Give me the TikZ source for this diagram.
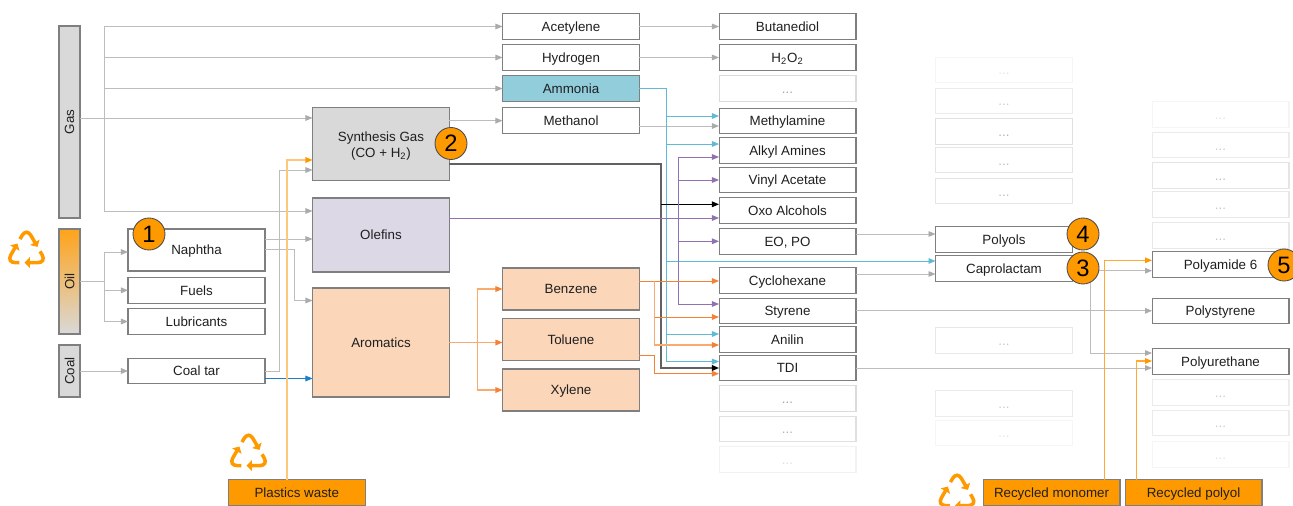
\documentclass[tikz,border=0pt]{standalone}
\usepackage{fontspec}
\setmainfont{Liberation Sans}
\usetikzlibrary{arrows.meta}
\definecolor{edgegrey}{HTML}{7F7F7F}
\definecolor{linegrey}{HTML}{BDBDBD}
\definecolor{tipgrey}{HTML}{ABABAB}
\definecolor{gasgrey}{HTML}{D9D9D9}
\definecolor{lilac}{HTML}{DDD8E6}
\definecolor{peach}{HTML}{FBD6B9}
\definecolor{aqua}{HTML}{92CDDC}
\definecolor{amber}{HTML}{FF9900}
\definecolor{cyanline}{HTML}{5FBAD3}
\definecolor{purpleline}{HTML}{8F72B2}
\definecolor{orangeline}{HTML}{F58233}
\definecolor{softorange}{HTML}{F9AA6F}
\definecolor{softamber}{HTML}{FFC77A}
\definecolor{midamber}{HTML}{FFAB33}
\definecolor{blueline}{HTML}{1B7FCC}
\tikzset{
  box/.style={draw=edgegrey,fill=white,line width=.6pt,inner sep=0pt,outer sep=0pt,align=center,
    minimum width=2.74cm,minimum height=.51cm,text=black!88,text height=6.5pt,text depth=1pt,
    font=\fontsize{7.6}{9}\selectfont},
  bar/.style={box,minimum width=.42cm,text height=,text depth=},
  blank/.style={box,draw=black!#1},
  badge/.style={circle,draw=black!70,fill=amber,line width=.5pt,inner sep=0pt,outer sep=0pt,
    minimum size=.64cm,font=\fontsize{13.5}{14}\selectfont},
  arr/.style={draw=#1,line width=.55pt,-{Triangle[length=4pt,width=3.2pt]}},
  greyarr/.style={draw=linegrey,line width=.55pt,-{Triangle[length=4pt,width=3.2pt,color=tipgrey]}},
  softarr/.style={draw=softorange,line width=.6pt,-{Triangle[length=4pt,width=3.2pt,color=orangeline]}},
  wastearr/.style={draw=softamber,line width=.75pt,-{Triangle[length=4pt,width=3.2pt,color=amber]}},
  recycledarr/.style={draw=midamber,line width=.6pt,-{Triangle[length=4pt,width=3.2pt,color=amber]}},
  recycle/.pic={
    \foreach \ang in {0,120,240}
      \draw[rotate=\ang,amber,line width=2pt,rounded corners=5pt,
        -{Triangle[length=3pt,width=6pt]}] (-6.5,-11.9) -- (0,-23.2) -- (11,-4.1);
  }
}
\begin{document}
\begin{tikzpicture}[x=.02cm,y=-.02cm]
    \path[use as bounding box,clip] (0,0) rectangle (1293,506);
    % feedstocks
    \node[bar,fill=gasgrey,minimum height=3.84cm] (gas) at (69.5,122) {\rotatebox{90}{Gas}};
    \node[bar,top color=amber!90,bottom color=gasgrey,minimum height=2.1cm] (oil) at (69.5,281.5) {\rotatebox{90}{Oil}};
    \node[bar,fill=gasgrey,minimum height=1.04cm] (coal) at (69.5,371) {\rotatebox{90}{Coal}};
    \node[box,minimum height=.84cm] (naphtha) at (196.5,250) {Naphtha};
    \node[box] (fuels) at (196.5,290.3) {Fuels};
    \node[box] (lubricants) at (196.5,321.5) {Lubricants};
    \node[box] (coaltar) at (196.5,371) {Coal tar};
    % base chemicals
    \node[box,fill=gasgrey,text height=,text depth=,minimum height=1.47cm] (syngas) at (381,143.8) {\\[-1pt]Synthesis Gas\\(CO + H\textsubscript{2})};
    \node[box,fill=lilac,minimum height=1.48cm] (olefins) at (381,235) {Olefins};
    \node[box,fill=peach,minimum height=2.18cm] (aromatics) at (381,342.5) {Aromatics};
    \node[box] (acetylene) at (571,26.5) {Acetylene};
    \node[box] (hydrogen) at (571,57.5) {Hydrogen};
    \node[box,fill=aqua] (ammonia) at (571,88.5) {Ammonia};
    \node[box] (methanol) at (571,120.7) {Methanol};
    \node[box,fill=peach,minimum height=.84cm] (benzene) at (571,289) {Benzene};
    \node[box,fill=peach,minimum height=.84cm] (toluene) at (571,339.5) {Toluene};
    \node[box,fill=peach,minimum height=.84cm] (xylene) at (571,390) {Xylene};
    % intermediates
    \node[box] (butanediol) at (787.5,26.5) {Butanediol};
    \node[box] (peroxide) at (787.5,57.5) {H\textsubscript{2}O\textsubscript{2}};
    \node[box] (methylamine) at (787.5,120.8) {Methylamine};
    \node[box] (alkylamines) at (787.5,150.3) {Alkyl Amines};
    \node[box] (vinylacetate) at (787.5,180) {Vinyl Acetate};
    \node[box] (oxoalcohols) at (787.5,210.5) {Oxo Alcohols};
    \node[box] (eopo) at (787.5,241.3) {EO, PO};
    \node[box] (cyclohexane) at (787.5,280.5) {Cyclohexane};
    \node[box] (styrene) at (787.5,310.8) {Styrene};
    \node[box] (anilin) at (787.5,339.5) {Anilin};
    \node[box] (tdi) at (787.5,368) {TDI};
    \node[box] (polyols) at (1004,239.3) {Polyols};
    \node[box] (caprolactam) at (1004,268.7) {Caprolactam};
    % polymers
    \node[box] (polyamide) at (1220.5,264.5) {Polyamide 6};
    \node[box] (polystyrene) at (1220.5,310.8) {Polystyrene};
    \node[box] (polyurethane) at (1220.5,361.5) {Polyurethane};
    % faded boxes
    \foreach \cx/\cy/\shade [count=\fadednum,evaluate=\shade as \ink using int(2.5*\shade)] in {787.5/88.5/14,787.5/398.3/14,787.5/429/12,787.5/459.3/5,
      1004/70/4,1004/101/8,1004/131.3/12,1004/160.2/10,1004/191.2/10,1004/340.5/9,1004/403.5/8,1004/433/4,
      1220.5/114.6/4,1220.5/145.2/8,1220.5/175.3/10,1220.5/204.5/9,1220.5/235.3/9,
      1220.5/392.7/8,1220.5/423/8,1220.5/454.3/4}
      \node[blank=\shade,text=black!\ink] (faded\fadednum) at (\cx,\cy) {...};
    % recycling inputs
    \node[box,fill=amber] (plasticswaste) at (296.8,492.5) {Plastics waste};
    \node[box,fill=amber] (monomer) at (1051.5,492.5) {Recycled monomer};
    \node[box,fill=amber] (polyol) at (1193.5,492.5) {Recycled polyol};
    \pic at (26.5,251) {recycle};
    \pic at (248.5,454) {recycle};
    \pic at (957,494) {recycle};
    % trunks
    \coordinate (gastrunk) at (104,118);
    \coordinate (oiltrunk) at (104,281.5);
    \coordinate (ammoniatrunk) at (666.5,88.5);
    \coordinate (purpletrunk) at (678.7,218);
    \coordinate (syntrunk) at (661,164);
    \coordinate (benzenetrunk) at (654.7,281);
    \coordinate (aromaticstrunk) at (477.3,342.5);
    % grey connectors
    \draw[greyarr] (gas.east |- gastrunk) -- (syngas.west |- gastrunk);
    \draw[greyarr] (gastrunk) |- (acetylene.west);
    \draw[greyarr] (gastrunk) |- (hydrogen.west);
    \draw[greyarr] (gastrunk) |- (ammonia.west);
    \draw[greyarr] (gastrunk) |- (olefins.west |- 0,211);
    \draw[greyarr] (oil.east |- oiltrunk) -- (oiltrunk) |- (naphtha.west |- 0,252);
    \draw[greyarr] (oiltrunk) |- (fuels.west);
    \draw[greyarr] (oiltrunk) |- (lubricants.west);
    \draw[greyarr] (coal.east) -- (coaltar.west);
    \draw[greyarr] (naphtha.east |- 0,239) -- (olefins.west |- 0,239);
    \draw[greyarr] (naphtha.east |- 0,249.5) -- (294.5,249.5) |- (aromatics.west |- 0,300.5);
    \draw[greyarr] (coaltar.east) -- (279,371) |- (syngas.west |- 0,170);
    \draw[arr=blueline] (coaltar.east |- 0,378.5) -- (aromatics.west |- 0,378.5);
    \draw[greyarr] (syngas.east |- methanol) -- (methanol.west);
    \draw[greyarr] (acetylene.east) -- (butanediol.west);
    \draw[greyarr] (hydrogen.east) -- (peroxide.west);
    \draw[greyarr] (methanol.east |- 0,126) -- (methylamine.west |- 0,126);
    \draw[greyarr] (eopo.east |- 0,234) -- (polyols.west |- 0,234);
    \draw[greyarr] (cyclohexane.east |- 0,274) -- (caprolactam.west |- 0,274);
    \draw[greyarr] (styrene.east) -- (polystyrene.west |- styrene);
    \draw[greyarr] (tdi.east) -- (polyurethane.west |- tdi);
    \draw[greyarr] (caprolactam.east |- 0,270.7) -- (polyamide.west |- 0,270.7);
    \draw[greyarr] (1090.3,270.7) |- (polyurethane.west |- 0,353);
    % ammonia
    \draw[arr=cyanline] (ammonia.east) -- (ammoniatrunk) |- (methylamine.west |- 0,116);
    \draw[arr=cyanline] (ammoniatrunk) |- (alkylamines.west |- 0,144);
    \draw[arr=cyanline] (ammoniatrunk) |- (caprolactam.west |- 0,261);
    \draw[arr=cyanline] (ammoniatrunk) |- (anilin.west |- 0,334);
    \draw[arr=cyanline] (ammoniatrunk) |- (tdi.west |- 0,361.5);
    % synthesis gas
    \draw[draw=black!62,line width=.8pt,-{Triangle[length=4pt,width=3.2pt,color=black]}] (syngas.east |- syntrunk) -- (syntrunk) |- (tdi.west);
    \draw[arr=black] (syntrunk |- 0,204.3) -- (oxoalcohols.west |- 0,204.3);
    % olefins
    \draw[arr=purpleline] (olefins.east |- purpletrunk) -- (oxoalcohols.west |- purpletrunk);
    \draw[arr=purpleline] (purpletrunk) |- (alkylamines.west |- 0,157);
    \draw[arr=purpleline] (purpletrunk) |- (vinylacetate.west);
    \draw[arr=purpleline] (purpletrunk) |- (eopo.west);
    \draw[arr=purpleline] (purpletrunk) |- (styrene.west |- 0,304);
    % aromatics
    \draw[softarr] (aromatics.east) -- (aromaticstrunk) -- (toluene.west |- aromaticstrunk);
    \draw[softarr] (aromaticstrunk) |- (benzene.west);
    \draw[softarr] (aromaticstrunk) |- (xylene.west);
    \draw[arr=orangeline] (benzene.east |- benzenetrunk) -- (cyclohexane.west |- benzenetrunk);
    \draw[arr=orangeline] (benzenetrunk) |- (styrene.west |- 0,317);
    \draw[softarr] (benzenetrunk) |- (anilin.west |- 0,345);
    \draw[arr=orangeline] (toluene.east |- 0,355.3) -- (654.7,355.3) |- (tdi.west |- 0,373.7);
    % recycling
    \draw[wastearr] (plasticswaste.north -| 287,0) -- (287,160) -- (syngas.west |- 0,160);
    \draw[recycledarr] (monomer.north -| 1104.3,0) -- (1104.3,260.3) -- (polyamide.west |- 0,260.3);
    \draw[recycledarr] (polyol.north -| 1136.3,0) -- (1136.3,361) -- (polyurethane.west |- 0,361);
    % numbered badges
    \node[badge] (one) at (149,234) {1};
    \node[badge] (two) at (451,143.5) {2};
    \node[badge] (three) at (1083,268) {3};
    \node[badge] (four) at (1083,234) {4};
    \node[badge] (five) at (1284,265) {5};
\end{tikzpicture}
\end{document}
